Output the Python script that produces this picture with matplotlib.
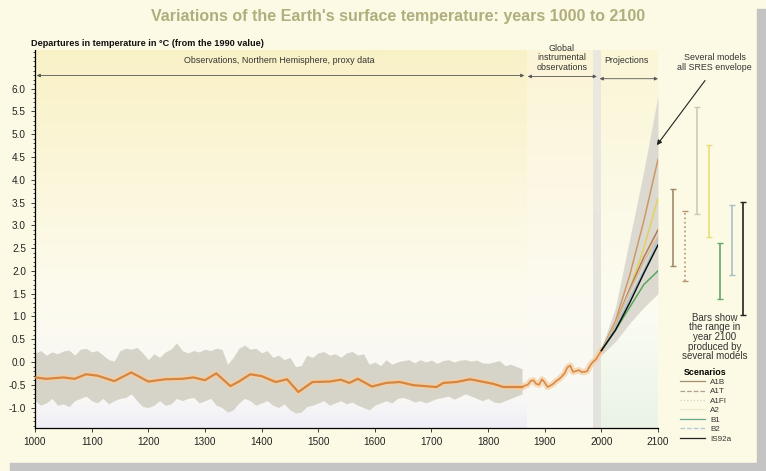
import matplotlib
matplotlib.use("Agg")
import matplotlib.pyplot as plt
import matplotlib.patches as mpatches
from matplotlib.lines import Line2D
import matplotlib.colors as mcolors
import numpy as np

plt.rcParams['font.family'] = ['Liberation Sans', 'DejaVu Sans']

# --- data ---
# smoothed proxy reconstruction (orange curve), Northern Hemisphere
proxy_years = [1000, 1020, 1050, 1070, 1090, 1110, 1140, 1170, 1200, 1230, 1260, 1280,
               1300, 1320, 1345, 1360, 1380, 1400, 1425, 1445, 1465, 1490, 1520, 1540,
               1555, 1570, 1595, 1620, 1644, 1668, 1709, 1721, 1744, 1768, 1785, 1809,
               1827, 1860]
proxy_mean = [-0.34, -0.37, -0.34, -0.37, -0.27, -0.30, -0.42, -0.23, -0.43, -0.38, -0.37, -0.34,
              -0.40, -0.25, -0.53, -0.43, -0.27, -0.31, -0.44, -0.38, -0.66, -0.44, -0.43, -0.39,
              -0.46, -0.37, -0.54, -0.46, -0.44, -0.51, -0.55, -0.46, -0.44, -0.38, -0.42, -0.48,
              -0.55, -0.55]

# annual proxy spread (grey band), one value per decade 1000..1860
band_years = list(range(1000, 1861, 10))
band_upper = [0.20, 0.25, 0.15, 0.22, 0.18, 0.24, 0.26, 0.15, 0.28, 0.30,
              0.22, 0.25, 0.15, 0.05, 0.02, 0.25, 0.30, 0.28, 0.32, 0.20,
              0.05, 0.18, 0.10, 0.22, 0.28, 0.42, 0.25, 0.20, 0.25, 0.22,
              0.28, 0.25, 0.30, 0.28, -0.05, 0.10, 0.30, 0.37, 0.28, 0.30,
              0.20, 0.25, 0.10, 0.15, 0.05, 0.10, -0.10, -0.08, 0.15, 0.10,
              0.20, 0.23, 0.15, 0.18, 0.10, 0.20, 0.23, 0.15, 0.18, -0.05,
              0.00, -0.08, 0.05, -0.05, 0.00, 0.03, 0.05, -0.02, 0.05, 0.00,
              0.04, -0.03, 0.03, 0.05, 0.00, 0.04, 0.05, 0.02, 0.04, -0.02,
              -0.03, 0.00, 0.03, -0.08, -0.05, -0.10, -0.15]
band_lower = [-0.85, -0.95, -0.90, -0.80, -0.95, -0.92, -0.98, -0.85, -0.80, -0.75,
              -0.85, -0.90, -0.80, -0.92, -0.85, -0.80, -0.78, -0.70, -0.85, -0.98,
              -1.00, -0.95, -0.85, -0.95, -0.92, -0.80, -0.85, -0.80, -0.78, -0.90,
              -0.85, -0.80, -0.95, -1.00, -1.10, -1.05, -0.90, -0.80, -0.85, -0.95,
              -0.90, -0.85, -0.95, -1.00, -0.92, -1.05, -1.12, -1.10, -0.98, -0.95,
              -0.90, -0.85, -0.95, -0.90, -0.85, -0.92, -0.88, -0.95, -1.00, -1.05,
              -0.95, -0.90, -0.85, -0.90, -0.80, -0.78, -0.82, -0.88, -0.85, -0.90,
              -0.85, -0.80, -0.78, -0.75, -0.82, -0.76, -0.70, -0.75, -0.80, -0.85,
              -0.80, -0.88, -0.90, -0.85, -0.80, -0.75, -0.70]

# global instrumental record
instr_years = [1860, 1865, 1870, 1875, 1880, 1885, 1890, 1895, 1900, 1905, 1910, 1915,
               1920, 1925, 1930, 1935, 1940, 1945, 1950, 1955, 1960, 1965, 1970, 1975,
               1980, 1985, 1990, 1995, 2000]
instr_vals = [-0.55, -0.52, -0.50, -0.42, -0.40, -0.48, -0.50, -0.38, -0.45, -0.55, -0.52, -0.48,
              -0.42, -0.38, -0.32, -0.25, -0.12, -0.08, -0.22, -0.20, -0.18, -0.22, -0.22, -0.20,
              -0.08, 0.00, 0.05, 0.15, 0.25]

# projections 2000-2100
proj_years = [2000, 2025, 2050, 2075, 2100]
env_upper = [0.30, 1.20, 2.70, 4.20, 5.85]
env_lower = [0.15, 0.45, 0.85, 1.20, 1.50]
scenarios = ['A1B', 'A1T', 'A1FI', 'A2', 'B1', 'B2', 'IS92a']
scen_vals = {
    'A1FI': [0.25, 0.90, 1.90, 3.10, 4.45],
    'A2': [0.25, 0.80, 1.60, 2.50, 3.60],
    'A1B': [0.25, 0.85, 1.60, 2.30, 2.90],
    'A1T': [0.25, 0.85, 1.55, 2.20, 2.75],
    'B2': [0.25, 0.75, 1.40, 2.00, 2.68],
    'IS92a': [0.25, 0.70, 1.30, 1.95, 2.57],
    'B1': [0.25, 0.70, 1.20, 1.70, 2.00],
}
# range in 2100 across models (low, high)
bar_low = [2.10, 1.78, 3.25, 2.75, 1.39, 1.92, 1.03]
bar_high = [3.79, 3.31, 5.60, 4.76, 2.62, 3.44, 3.52]

# --- styles ---
line_col = {'A1FI': '#cf9668', 'A2': '#e3cf62', 'A1B': '#b27c55', 'A1T': '#dcbc94',
            'B2': '#a9c3d6', 'IS92a': '#111111', 'B1': '#5aa65e'}
bar_col = ['#a08a6a', '#b99270', '#cfc8b8', '#e8df78', '#62a866', '#a9c0c8', '#222222']
bar_ls = ['-', ':', '-', '-', '-', '-', '-']
leg_col = ['#a09070', '#b0a090', '#d8d0c0', '#f0ecd0', '#6aa890', '#b0c8d8', '#222222']
leg_ls = ['-', '--', ':', '-', '-', '--', '-']

fig = plt.figure(figsize=(7.66, 4.71), dpi=100, facecolor='#fcf9e4')
ax = fig.add_axes([0.0457, 0.0913, 0.8133, 0.8025])
ax.set_xlim(1000, 2100)
ax.set_ylim(-1.45, 6.85)
ax.set_facecolor('none')


def vgrad(x0, x1, stops):
    pos = [p for p, c in stops]
    cols = np.array([mcolors.to_rgb(c) for p, c in stops])
    yy = np.linspace(6.85, -1.45, 200)
    img = np.stack([np.interp(yy, pos, cols[:, k]) for k in range(3)], axis=1)
    ax.imshow(img[:, None, :], extent=[x0, x1, -1.45, 6.85], aspect='auto',
              zorder=0, interpolation='bilinear')


vgrad(1000, 1868, [(-1.45, '#efedf6'), (-0.9, '#f8f7f6'), (1.5, '#fdfbee'), (6.85, '#f9f1c6')])
vgrad(1868, 1985, [(-1.45, '#f7f7f4'), (1.5, '#fdfbf0'), (6.85, '#fbf4d6')])
vgrad(1985, 2000, [(-1.45, '#e4e2dc'), (6.85, '#ebe9df')])
vgrad(2000, 2100, [(-1.45, '#eaf3e6'), (1.0, '#fbfcf2'), (6.85, '#fcf6d6')])

# proxy spread
ax.fill_between(band_years, band_lower, band_upper, color='#d6d3c8', lw=0, zorder=1)
# proxy mean with halo
ax.plot(proxy_years, proxy_mean, color='#f6cfa2', lw=4.5, alpha=0.7, zorder=2,
        solid_joinstyle='round', solid_capstyle='round')
ax.plot(proxy_years, proxy_mean, color='#d58640', lw=1.6, zorder=3,
        solid_joinstyle='round', solid_capstyle='round')
# instrumental
ax.plot(instr_years, instr_vals, color='#f6cfa2', lw=4.5, alpha=0.7, zorder=2)
ax.plot(instr_years, instr_vals, color='#d98a48', lw=1.2, zorder=3)

# projections
ax.fill_between(proj_years, env_lower, env_upper, color='#dcdad0', lw=0, zorder=1)
for name in ['A1FI', 'A2', 'A1B', 'A1T', 'B2', 'B1', 'IS92a']:
    ax.plot(proj_years, scen_vals[name], color=line_col[name], lw=1.1, zorder=4)

# range bars beyond 2100
bar_x = [2127, 2148, 2169, 2190, 2209, 2230, 2250]
for i in range(len(scenarios)):
    ax.vlines(bar_x[i], bar_low[i], bar_high[i], color=bar_col[i], lw=1.2,
              linestyles=bar_ls[i], clip_on=False, zorder=5)
    ax.plot([bar_x[i]] * 2, [bar_low[i], bar_high[i]], ls='none', marker='_', ms=4,
            mew=1.0, color=bar_col[i], clip_on=False, zorder=5)

# axes styling
for s in ['top', 'right']:
    ax.spines[s].set_visible(False)
ax.spines['left'].set_linewidth(0.9)
ax.spines['bottom'].set_linewidth(0.9)
ax.set_yticks(np.arange(-1.0, 6.01, 0.5))
ax.set_yticks(np.arange(-1.4, 6.81, 0.1), minor=True)
ax.set_yticklabels(['%.1f' % v for v in np.arange(-1.0, 6.01, 0.5)])
ax.set_xticks(np.arange(1000, 2101, 100))
ax.tick_params(axis='both', which='major', labelsize=7.2, colors='#222222', length=3, width=0.6)
ax.tick_params(axis='y', which='minor', length=1.5, width=0.5)

# headers
fig.text(0.52, 0.965, "Variations of the Earth's surface temperature: years 1000 to 2100",
         ha='center', va='center', fontsize=11.5, fontweight='bold', color='#b1ae7e')
fig.text(0.04, 0.908, 'Departures in temperature in \u00b0C (from the 1990 value)',
         ha='left', va='center', fontsize=6.6, fontweight='bold', color='#111111')

txt = dict(fontsize=6.4, color='#333333', ha='center', va='center')
ax.text(1432, 6.62, 'Observations, Northern Hemisphere, proxy data', **txt)
ax.text(1930, 6.68, 'Global\ninstrumental\nobservations', linespacing=1.05, **txt)
ax.text(2045, 6.62, 'Projections', **txt)
ax.text(2200, 6.58, 'Several models\nall SRES envelope', linespacing=1.15, clip_on=False, **txt)

arr = dict(arrowstyle='<|-|>', color='#555555', lw=0.6, mutation_scale=5, shrinkA=0, shrinkB=0)
ax.annotate('', xy=(1003, 6.29), xytext=(1864, 6.29), arrowprops=arr)
ax.annotate('', xy=(1870, 6.27), xytext=(1992, 6.27), arrowprops=arr)
ax.annotate('', xy=(1997, 6.22), xytext=(2100, 6.22), arrowprops=arr)
ax.annotate('', xy=(2098, 4.76), xytext=(2183, 6.18), annotation_clip=False,
            arrowprops=dict(arrowstyle='-|>', color='#222222', lw=0.8, mutation_scale=7,
                            shrinkA=0, shrinkB=0))

ax.text(2200, 0.55, 'Bars show\nthe range in\nyear 2100\nproduced by\nseveral models',
        fontsize=7.0, color='#333333', ha='center', va='center',
        linespacing=0.95, clip_on=False)

handles = [Line2D([], [], color=leg_col[i], ls=leg_ls[i], lw=0.9) for i in range(len(scenarios))]
leg = fig.legend(handles, scenarios, loc='upper left', bbox_to_anchor=(0.882, 0.228),
                 frameon=False, fontsize=5.8, handlelength=3.2, handletextpad=0.6,
                 labelspacing=0.22, borderpad=0, title='Scenarios',
                 title_fontproperties={'weight': 'bold', 'size': 6.4})
for t in leg.get_texts():
    t.set_color('#333333')

# page shadow
fig.patches.append(mpatches.Rectangle((0.013, 0.0), 0.987, 0.018, transform=fig.transFigure,
                                      color='#c4c4c4', zorder=0))
fig.patches.append(mpatches.Rectangle((0.988, 0.0), 0.012, 0.98, transform=fig.transFigure,
                                      color='#c4c4c4', zorder=0))

fig.savefig('out.png', dpi=100, facecolor=fig.get_facecolor())
